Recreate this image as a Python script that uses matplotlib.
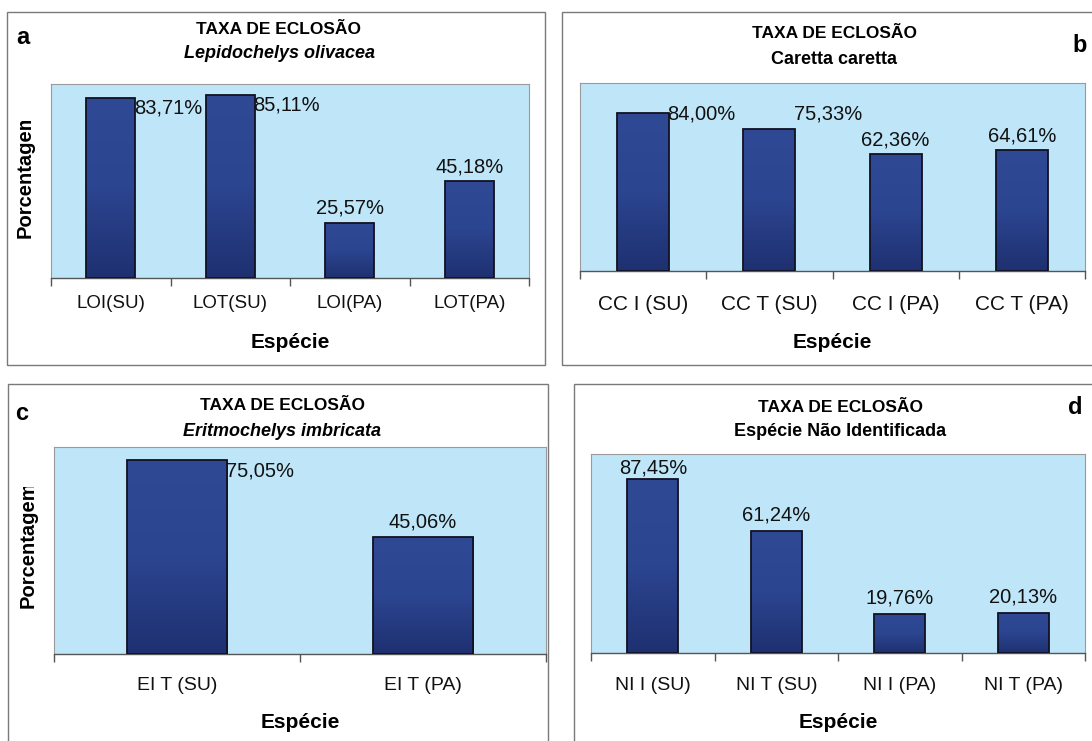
import matplotlib
matplotlib.use("Agg")
import numpy as np
import matplotlib.pyplot as plt
from matplotlib.patches import Rectangle
from matplotlib.colors import LinearSegmentedColormap
from matplotlib.transforms import Bbox, TransformedBbox, blended_transform_factory

# ---------------- data ----------------
title_main = "TAXA DE ECLOSÃO"

cats_a = ["LOI(SU)", "LOT(SU)", "LOI(PA)", "LOT(PA)"]
vals_a = [83.71, 85.11, 25.57, 45.18]
sub_a = "Lepidochelys olivacea"

cats_b = ["CC I (SU)", "CC T (SU)", "CC I (PA)", "CC T (PA)"]
vals_b = [84.00, 75.33, 62.36, 64.61]
sub_b = "Caretta caretta"

cats_c = ["EI T (SU)", "EI T (PA)"]
vals_c = [75.05, 45.06]
sub_c = "Eritmochelys imbricata"

cats_d = ["NI I (SU)", "NI T (SU)", "NI I (PA)", "NI T (PA)"]
vals_d = [87.45, 61.24, 19.76, 20.13]
sub_d = "Espécie Não Identificada"

xlabel = "Espécie"
ylabel = "Porcentagem"

# ---------------- style ----------------
W, H = 1092, 741
FONT = "Liberation Sans"
BG = "#BEE6F8"
GRAD = LinearSegmentedColormap.from_list("bar", ["#1E3070", "#2C4590", "#304995"])
plt.rcParams["font.family"] = [FONT, "DejaVu Sans"]

fig = plt.figure(figsize=(W / 100, H / 100), dpi=100)
fig.patch.set_facecolor("white")
PX2PT = 72 / 100


def fx(x):
    return x / W


def fy(y):
    return 1 - y / H


def rect(l, t, r, b):
    return [fx(l), fy(b), (r - l) / W, (b - t) / H]


def box(l, t, r, b):
    fig.patches.append(Rectangle((fx(l), fy(b)), (r - l) / W, (b - t) / H,
                                 transform=fig.transFigure, fill=False,
                                 edgecolor="#7a7a7a", lw=1.0))


def fmt(v):
    return f"{v:.2f}".replace(".", ",") + "%"


GRAD_IMG = np.linspace(0, 1, 256).reshape(-1, 1)


def panel(plot, ymax, cats, vals, label_pos, tick_fs, sub, sub_style,
          title_xy, sub_y, letter, letter_xy, xlab_y, ylab=None, tick_y=None):
    ax = fig.add_axes(rect(*plot))
    n = len(cats)
    xs = list(range(n))
    ax.set_facecolor(BG)
    bars = ax.bar(xs, vals, width=0.41, color="none", edgecolor="#111122",
                  linewidth=1.3, zorder=4)
    for b in bars:
        x0, w, h = b.get_x(), b.get_width(), b.get_height()
        im = ax.imshow(GRAD_IMG, cmap=GRAD, aspect="auto", origin="lower",
                       extent=(x0, x0 + w, 0, h), zorder=3, vmin=0, vmax=1)
        im.set_clip_path(b)
    ax.set_xlim(-0.5, n - 0.5)
    ax.set_ylim(0, ymax)
    ax.set_yticks([])
    for s in ["left", "top", "right"]:
        ax.spines[s].set_color("#9a9a9a")
        ax.spines[s].set_linewidth(0.8)
    ax.spines["bottom"].set_color("#555555")
    ax.spines["bottom"].set_linewidth(1.0)
    ax.set_xticks([i - 0.5 for i in range(n + 1)], minor=False)
    ax.set_xticklabels([])
    ax.tick_params(axis="x", which="major", length=6, width=1.0, color="#555555",
                   direction="out")
    # category labels
    trans = blended_transform_factory(ax.transData, fig.transFigure)
    for i, c in enumerate(cats):
        ax.text(i, fy(tick_y), c, transform=trans, ha="center", va="center",
                fontsize=tick_fs, color="#111111", clip_on=False)
    # value labels: (mode, dy px of label centre below bar top)
    for i, (v, (m, dy)) in enumerate(zip(vals, label_pos)):
        if m == "right":
            ax.annotate(fmt(v), (i + 0.205, v), xytext=(-1, -dy * PX2PT),
                        textcoords="offset points", ha="left", va="center",
                        fontsize=14.5, color="#111111", zorder=5)
        else:
            ax.annotate(fmt(v), (i, v), xytext=(0, -dy * PX2PT),
                        textcoords="offset points", ha="center", va="center",
                        fontsize=14.5, color="#111111", zorder=5)
    # titles
    fig.text(fx(title_xy[0]), fy(title_xy[1]), title_main, ha="center",
             va="center", fontsize=12.5, fontweight="bold")
    fig.text(fx(title_xy[0]), fy(sub_y), sub, ha="center", va="center",
             fontsize=13, fontweight="bold", style=sub_style)
    fig.text(fx(letter_xy[0]), fy(letter_xy[1]), letter, ha="center",
             va="center", fontsize=17, fontweight="bold")
    fig.text(fx((plot[0] + plot[2]) / 2), fy(xlab_y), xlabel, ha="center",
             va="center", fontsize=15, fontweight="bold")
    if ylab is not None:
        x, yb, yclip = ylab
        t = fig.text(fx(x), fy(yb), ylabel, ha="center", va="bottom",
                     rotation=90, fontsize=14.5, fontweight="bold")
        bb = TransformedBbox(Bbox.from_extents(0, fy(yb) - 0.05, 1, fy(yclip)),
                             fig.transFigure)
        t.set_clip_box(bb)
        t.set_clip_on(True)
    return ax


# boxes
box(7, 12, 545, 365)
box(562, 12, 1098, 365)
box(8, 384, 548, 750)
box(574, 384, 1098, 750)

panel((51, 84, 529, 278), 90, cats_a, vals_a,
      [("right", 10), ("right", 10), ("top", -15), ("top", -14)], 13.5,
      sub_a, "italic", (279, 29), 53, "a", (23, 38), 342,
      ylab=(25, 238, 121), tick_y=304)

panel((580, 83, 1085, 271), 100, cats_b, vals_b,
      [("right", 1), ("right", -15), ("top", -14), ("top", -14)], 15,
      sub_b, "normal", (834, 34), 59, "b", (1080, 45), 342, tick_y=305)

panel((54, 447, 546, 654), 80, cats_c, vals_c,
      [("right", 11), ("top", -15)], 14, sub_c, "italic",
      (282, 405), 432, "c", (22, 413), 723, ylab=(28, 608, 487), tick_y=685)

panel((591, 454, 1085, 653), 100, cats_d, vals_d,
      [("top", -11), ("top", -16), ("top", -16), ("top", -16)], 14,
      sub_d, "normal", (840, 407), 432, "d", (1075, 408), 723, tick_y=685)

fig.savefig("out.png", dpi=100, facecolor="white")
